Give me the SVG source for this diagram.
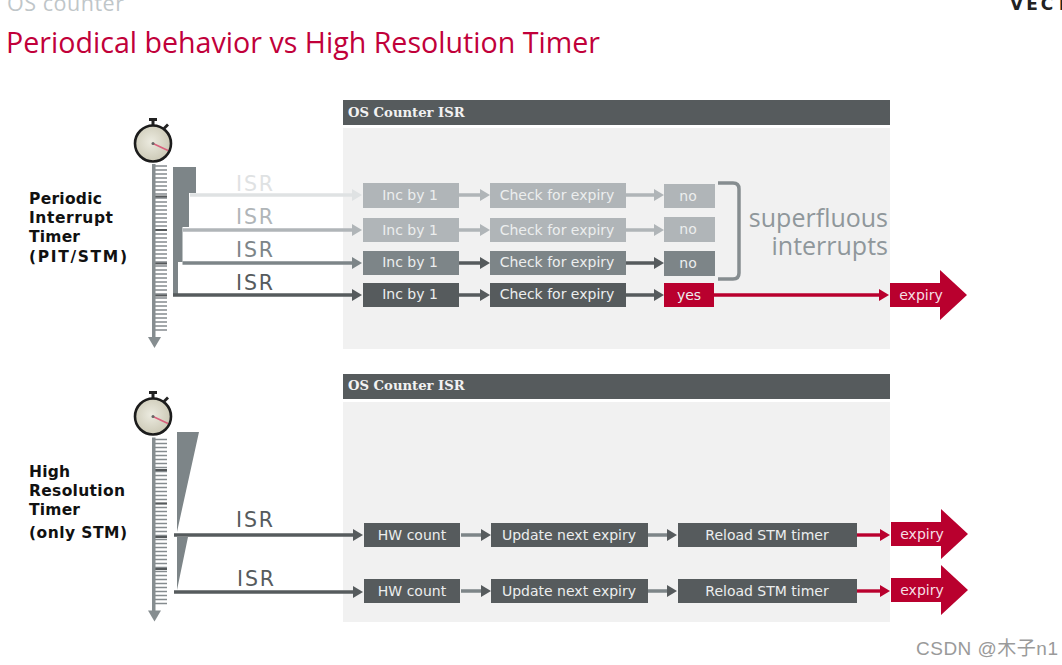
<svg xmlns="http://www.w3.org/2000/svg" width="1062" height="665" viewBox="0 0 1062 665">
<style>
text{font-family:"DejaVu Sans","Liberation Sans",sans-serif}
.hd{font-family:"DejaVu Serif","Liberation Serif",serif;font-weight:700;font-size:13.2px;fill:#f2f2f2}
.lb{font-weight:700;font-size:15.5px;fill:#111}
.isr{font-size:20.5px}
.bt{font-size:14px;text-anchor:middle;fill:#eceeee}
.exp{font-size:14px;text-anchor:middle;fill:#f6dfe4}
.c1{fill:#dfe2e3;stroke:#dfe2e3}.c2{fill:#b0b5b8;stroke:#b0b5b8}.c3{fill:#7d8588;stroke:#7d8588}.c4{fill:#565b5d;stroke:#565b5d}.cr{fill:#b9002e;stroke:#b9002e}
.l{stroke-width:3.4;fill:none}
.a{stroke:none}
.os{font-family:"Open Sans","DejaVu Sans",sans-serif}
</style>
<defs>
<radialGradient id="face" cx="0.45" cy="0.45" r="0.6"><stop offset="0" stop-color="#ecebe0"/><stop offset="1" stop-color="#c9c6b2"/></radialGradient>
<g id="watch">
<rect x="-4" y="-25.500" width="8" height="3" fill="#222"/>
<rect x="-1.500" y="-23" width="3" height="5" fill="#222"/>
<path d="M11-15l4-4" stroke="#222" stroke-width="2.800"/>
<circle r="18" fill="url(#face)" stroke="#1c1c1c" stroke-width="2.600"/>
<path d="M0 0L15 7" stroke="#d8607c" stroke-width="1.600"/>
<circle r="1.500" fill="#666"/>
</g>
<g id="ticks">
<path d="M155 0h12M155 4h12M155 8h12M155 12h12M155 16h12M155 20h12M155 24h12M155 28h12M155 32h12M155 36h12M155 40h12M155 44h12M155 48h12M155 52h12M155 56h12M155 60h12M155 64h12M155 68h12M155 72h12M155 76h12M155 80h12M155 84h12M155 88h12M155 92h12M155 96h12M155 100h12M155 104h12M155 108h12M155 112h12M155 116h12M155 120h12M155 124h12M155 128h12M155 132h12M155 136h12M155 140h12M155 144h12M155 148h12M155 152h12M155 156h12M155 160h12M155 164h12" stroke="#858b8e" stroke-width="1.300" fill="none"/>
<path d="M155 30.500h12M155 64h12M155 97.500h12M155 129.500h12" stroke="#55595b" stroke-width="2" fill="none"/>
<rect x="152" y="-2" width="3.500" height="174" fill="#868d90"/>
<path d="M148 171h13l-6.500 11z" fill="#868d90"/>
</g>
</defs>

<g id="header">
<text class="os" x="7" y="11" font-size="21.500" fill="#bfc6c9" textLength="117">OS counter</text>
<text x="1010" y="10" font-size="17" font-weight="700" fill="#222" letter-spacing="3">VECT</text>
<text class="os" x="6" y="53" font-size="28.600" fill="#c1003a" textLength="594">Periodical behavior vs High Resolution Timer</text>
</g>

<g id="panel-top">
<rect x="343" y="128" width="547" height="221" fill="#f1f1f1"/>
<rect x="343" y="100" width="547" height="25" fill="#565b5d"/>
<text class="hd" x="348" y="117">OS Counter ISR</text>
</g>
<g id="panel-bottom">
<rect x="343" y="402" width="547" height="220" fill="#f1f1f1"/>
<rect x="343" y="374" width="547" height="25" fill="#565b5d"/>
<text class="hd" x="348" y="390">OS Counter ISR</text>
</g>

<g id="timeline-top">
<use href="#watch" x="153" y="143.500"/>
<use href="#ticks" x="0" y="166"/>
<path d="M173 167h23v26h-7v34h-6.500v35h-4.500v33h-5z" fill="#7d8588"/>
</g>
<g id="timeline-bottom">
<use href="#watch" x="153" y="416.500"/>
<use href="#ticks" x="0" y="439.500"/>
<path d="M177 432h22l-22 100zM177 537h11l-11 53z" fill="#7d8588"/>
</g>

<g id="label-pit">
<text class="lb" x="29" y="204" textLength="73">Periodic</text>
<text class="lb" x="29" y="223" textLength="84">Interrupt</text>
<text class="lb" x="29" y="242" textLength="51">Timer</text>
<text class="lb" x="29" y="262" textLength="98">(PIT/STM)</text>
</g>
<g id="label-hrt">
<text class="lb" x="29" y="477" textLength="41">High</text>
<text class="lb" x="29" y="496" textLength="96">Resolution</text>
<text class="lb" x="29" y="515" textLength="51">Timer</text>
<text class="lb" x="29" y="538" textLength="98">(only STM)</text>
</g>

<g id="connectors">
<path class="l c1" d="M190 195H352"/><path class="a c1" d="M352 189l10 6-10 6z"/>
<path class="l c2" d="M183 230H352"/><path class="a c2" d="M352 224l10 6-10 6z"/>
<path class="l c3" d="M182.500 263H352"/><path class="a c3" d="M352 257l10 6-10 6z"/>
<path class="l c4" d="M173 295H352"/><path class="a c4" d="M352 289l10 6-10 6z"/>
<path class="l c2" d="M459 195H480M626 195H654"/><path class="a c2" d="M480 189l10 6-10 6zM654 189l10 6-10 6z"/>
<path class="l c2" d="M459 230H480M626 230H654"/><path class="a c2" d="M480 224l10 6-10 6zM654 224l10 6-10 6z"/>
<path class="l c4" d="M459 263H480M626 263H654"/><path class="a c4" d="M480 257l10 6-10 6zM654 257l10 6-10 6z"/>
<path class="l c4" d="M459 295H480M626 295H654"/><path class="a c4" d="M480 289l10 6-10 6zM654 289l10 6-10 6z"/>
<path class="l cr" d="M714 295H880"/><path class="a cr" d="M879 289l10 6-10 6z"/>
<path class="l c4" d="M174 535H353"/><path class="a c4" d="M353 529l10 6-10 6z"/>
<path class="l c4" d="M174 592H353"/><path class="a c4" d="M353 586l10 6-10 6z"/>
<path class="l c3" d="M461 535H481M648 535H667"/><path class="a c4" d="M481 529l10 6-10 6zM667 529l10 6-10 6z"/>
<path class="l c3" d="M461 591H481M648 591H667"/><path class="a c4" d="M481 585l10 6-10 6zM667 585l10 6-10 6z"/>
<path class="l cr" d="M857 535H881"/><path class="a cr" d="M880 529l10 6-10 6z"/>
<path class="l cr" d="M857 591H881"/><path class="a cr" d="M880 585l10 6-10 6z"/>
<path d="M718 183h15q6 0 6 6v84q0 6-6 6h-15" fill="none" stroke="#868d90" stroke-width="3.500"/>
</g>

<g id="isr-labels">
<text class="isr" x="236" y="191" fill="#dfe2e3" textLength="37">ISR</text>
<text class="isr" x="236" y="224" fill="#b0b5b8" textLength="37">ISR</text>
<text class="isr" x="236" y="257" fill="#7d8588" textLength="37">ISR</text>
<text class="isr" x="236" y="290" fill="#565b5d" textLength="37">ISR</text>
<text class="isr" x="236" y="527" fill="#565b5d" textLength="37">ISR</text>
<text class="isr" x="237" y="586" fill="#565b5d" textLength="37">ISR</text>
</g>

<g id="n1"><rect x="363" y="183" width="96" height="25" fill="#b0b5b8"/><text class="bt" x="410" y="200">Inc by 1</text></g>
<g id="n2"><rect x="490" y="183" width="136" height="25" fill="#b0b5b8"/><text class="bt" x="557" y="200">Check for expiry</text></g>
<g id="n3"><rect x="664" y="184" width="51" height="24" fill="#b0b5b8"/><text class="bt" x="688" y="201">no</text></g>
<g id="n4"><rect x="363" y="218" width="96" height="24" fill="#b0b5b8"/><text class="bt" x="410" y="235">Inc by 1</text></g>
<g id="n5"><rect x="490" y="218" width="136" height="24" fill="#b0b5b8"/><text class="bt" x="557" y="235">Check for expiry</text></g>
<g id="n6"><rect x="664" y="217" width="51" height="25" fill="#b0b5b8"/><text class="bt" x="688" y="234">no</text></g>
<g id="n7"><rect x="363" y="251" width="96" height="24" fill="#7d8588"/><text class="bt" x="410" y="267">Inc by 1</text></g>
<g id="n8"><rect x="490" y="251" width="136" height="24" fill="#7d8588"/><text class="bt" x="557" y="267">Check for expiry</text></g>
<g id="n9"><rect x="664" y="251" width="51" height="25" fill="#7d8588"/><text class="bt" x="688" y="268">no</text></g>
<g id="n10"><rect x="363" y="283" width="96" height="24" fill="#565b5d"/><text class="bt" x="410" y="299">Inc by 1</text></g>
<g id="n11"><rect x="490" y="283" width="136" height="24" fill="#565b5d"/><text class="bt" x="557" y="299">Check for expiry</text></g>
<g id="n12"><rect x="664" y="283" width="50" height="24" fill="#b9002e"/><text class="bt" x="689" y="300">yes</text></g>
<g id="superfluous"><text class="os" x="888" y="227" font-size="25" text-anchor="end" fill="#8f979b">superfluous</text><text class="os" x="888" y="255" font-size="25" text-anchor="end" fill="#8f979b">interrupts</text></g>
<g id="exp1"><path d="M890 283h50v-13l27 25-27 25v-13h-50z" fill="#b9002e"/><text class="exp" x="921" y="300">expiry</text></g>

<g id="n13"><rect x="364" y="523" width="96" height="24" fill="#565b5d"/><text class="bt" x="412" y="540">HW count</text></g>
<g id="n14"><rect x="491" y="523" width="157" height="24" fill="#565b5d"/><text class="bt" x="569" y="540">Update next expiry</text></g>
<g id="n15"><rect x="678" y="523" width="179" height="24" fill="#565b5d"/><text class="bt" x="767" y="540">Reload STM timer</text></g>
<g id="exp2"><path d="M891 522h50v-13l27 25-27 25v-13h-50z" fill="#b9002e"/><text class="exp" x="922" y="539">expiry</text></g>
<g id="n16"><rect x="364" y="579" width="96" height="24" fill="#565b5d"/><text class="bt" x="412" y="596">HW count</text></g>
<g id="n17"><rect x="491" y="579" width="157" height="24" fill="#565b5d"/><text class="bt" x="569" y="596">Update next expiry</text></g>
<g id="n18"><rect x="678" y="579" width="179" height="24" fill="#565b5d"/><text class="bt" x="767" y="596">Reload STM timer</text></g>
<g id="exp3"><path d="M891 578h50v-13l27 25-27 25v-13h-50z" fill="#b9002e"/><text class="exp" x="922" y="595">expiry</text></g>

<g id="watermark"><text x="916" y="655" font-size="19" fill="#9a9a9a" textLength="142" style="font-family:'Liberation Sans','Noto Sans CJK SC',sans-serif">CSDN @木子n1</text></g>
</svg>
